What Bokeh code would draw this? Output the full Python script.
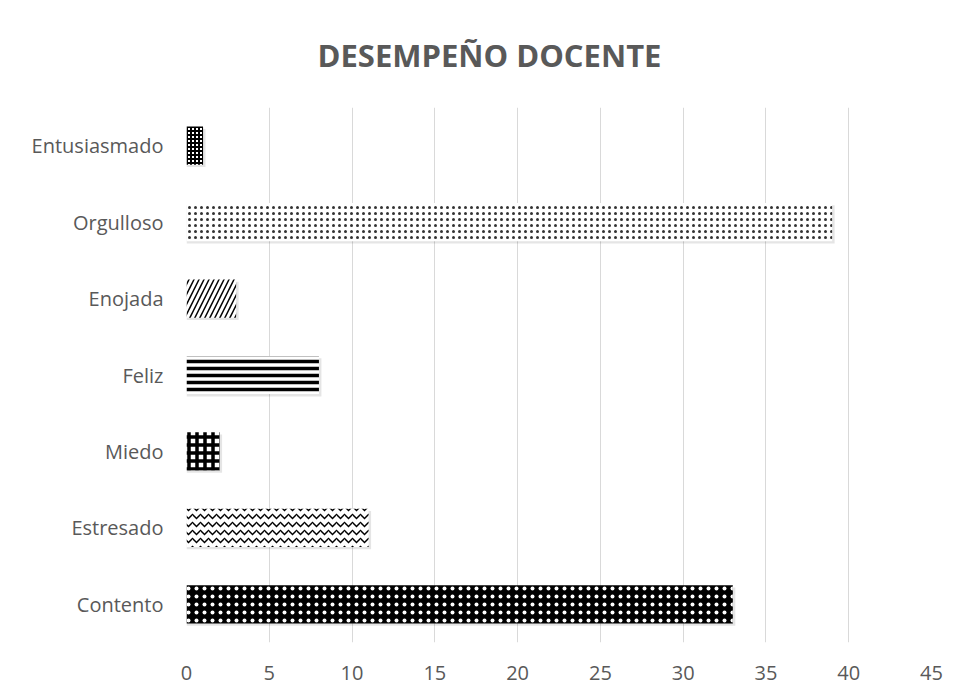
from bokeh.plotting import figure
from bokeh.models import ColumnDataSource, FactorRange, FixedTicker
from bokeh.transform import dodge
from bokeh.embed import file_html
from bokeh.resources import INLINE

categories = ["Contento", "Estresado", "Miedo", "Feliz", "Enojada", "Orgulloso", "Entusiasmado"]
values = [33, 11, 2, 8, 3, 39, 1]
x_ticks = [0, 5, 10, 15, 20, 25, 30, 35, 40, 45]
title_text = "DESEMPEÑO DOCENTE"

patterns = ["dot", "horizontal_wave", "cross", "horizontal_line", "right_diagonal_line", "dot", "cross"]
fills = ["black", "white", "white", "white", "white", "white", "white"]
hcolors = ["white", "black", "black", "black", "black", "#333333", "black"]
hscales = [8, 8, 8, 7, 10, 6, 4]
hweights = [2, 1.5, 3.5, 3.5, 1.5, 1.2, 2]

src = ColumnDataSource(dict(cat=categories, val=values,
                            shadow=[v + 0.15 for v in values],
                            pat=patterns, fill=fills, hc=hcolors,
                            hs=hscales, hw=hweights))

p = figure(width=947, height=684, output_backend="svg", toolbar_location=None,
           y_range=FactorRange(*categories, range_padding=0), x_range=(0, 45),
           frame_width=745, frame_height=535,
           min_border_left=186, min_border_right=16, min_border_top=106, min_border_bottom=43,
           title=title_text)

p.outline_line_color = None
p.background_fill_color = "white"
p.border_fill_color = "white"

p.title.align = "left"
p.title.offset = 131
p.title.standoff = 63
p.title.text_font = "Open Sans"
p.title.text_font_style = "bold"
p.title.text_font_size = "31px"
p.title.text_color = "#595959"

p.hbar(y=dodge("cat", -0.03, range=p.y_range), left=0, right="shadow", height=0.5,
       source=src, fill_color="black", fill_alpha=0.10, line_color=None)
p.hbar(y="cat", left=0, right="val", height=0.5, source=src,
       fill_color="fill", line_color=None, hatch_pattern="pat", hatch_color="hc",
       hatch_scale="hs", hatch_weight="hw")

p.xaxis.ticker = FixedTicker(ticks=x_ticks)
p.xgrid.ticker = FixedTicker(ticks=x_ticks)
p.xgrid.grid_line_color = "#d9d9d9"
p.ygrid.grid_line_color = None

for ax in (p.xaxis, p.yaxis):
    ax.axis_line_color = None
    ax.major_tick_line_color = None
    ax.minor_tick_line_color = None
    ax.major_label_text_color = "#595959"
    ax.major_label_text_font = "Open Sans"
    ax.major_label_text_font_size = "20px"
p.xaxis.major_label_standoff = 17
p.yaxis.major_label_standoff = 17

open("out.html", "w").write(file_html(p, INLINE))
